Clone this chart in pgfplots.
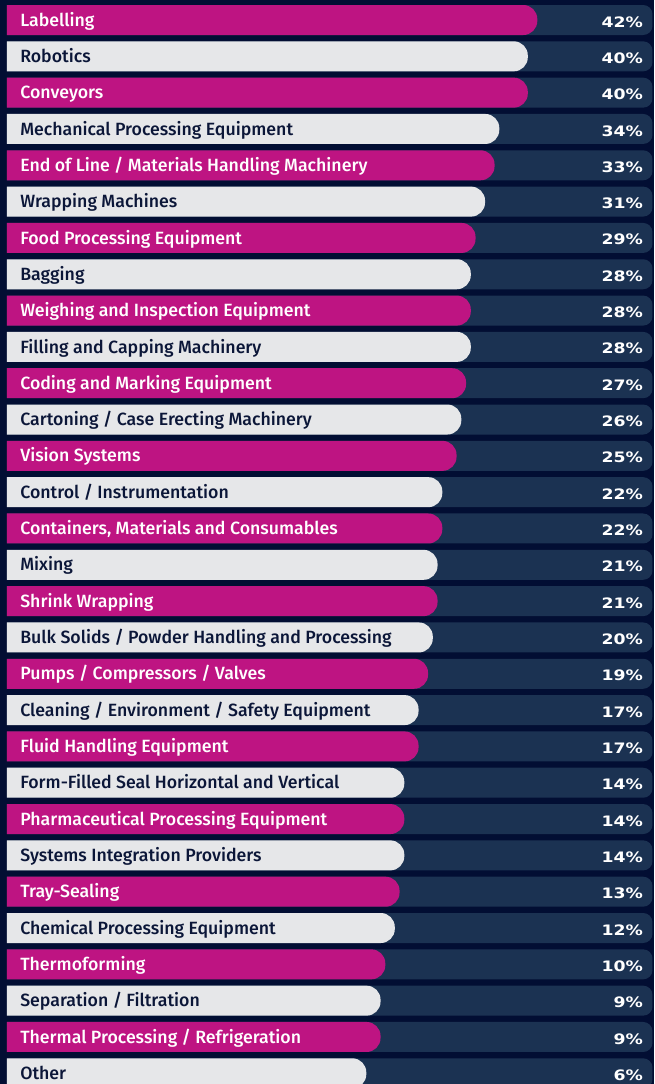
\documentclass[border=0pt]{standalone}
\usepackage{fontspec}
\setmainfont{Fira Sans Medium}
\newfontfamily\pctfont{DejaVu Sans}[FakeStretch=1.2]
\usepackage{pgfplots}
\pgfplotsset{compat=1.18}
\usepackage{pgfplotstable}
\definecolor{bgnavy}{HTML}{020E33}
\definecolor{track}{HTML}{1B3252}
\definecolor{mag}{HTML}{BE1482}
\definecolor{lgrey}{HTML}{E6E7E9}
\definecolor{dtext}{HTML}{0B1638}

\pgfplotstableread[col sep=semicolon]{
row;v;label
0;42;Labelling
2;40;Conveyors
4;33;End of Line / Materials Handling Machinery
6;29;Food Processing Equipment
8;28;Weighing and Inspection Equipment
10;27;Coding and Marking Equipment
12;25;Vision Systems
14;22;Containers, Materials and Consumables
16;21;Shrink Wrapping
18;19;Pumps / Compressors / Valves
20;17;Fluid Handling Equipment
22;14;Pharmaceutical Processing Equipment
24;13;Tray-Sealing
26;10;Thermoforming
28;9;Thermal Processing / Refrigeration
}\magtab

\pgfplotstableread[col sep=semicolon]{
row;v;label
1;40;Robotics
3;34;Mechanical Processing Equipment
5;31;Wrapping Machines
7;28;Bagging
9;28;Filling and Capping Machinery
11;26;Cartoning / Case Erecting Machinery
13;22;Control / Instrumentation
15;21;Mixing
17;20;Bulk Solids / Powder Handling and Processing
19;17;Cleaning / Environment / Safety Equipment
21;14;Form-Filled Seal Horizontal and Vertical
23;14;Systems Integration Providers
25;12;Chemical Processing Equipment
27;9;Separation / Filtration
29;6;Other
}\greytab

\begin{document}
\begin{tikzpicture}
\path[use as bounding box, fill=bgnavy] (-5.25pt,0) rectangle (485.25pt,813pt);
\begin{scope}
\clip (0,0) rectangle (485.25pt,813pt);
\begin{axis}[
  at={(-27.75pt,0)}, anchor=south west,
  scale only axis, width=513pt, height=813pt,
  xmin=-2.43, xmax=141.57, ymin=-0.551, ymax=29.295, y dir=reverse,
  hide axis,
]
% background tracks
\addplot[xbar, bar width=0.826, bar shift=0pt, fill=track, draw=none, rounded corners=7pt]
  table[x expr=141.25, y=row] {\magtab};
\addplot[xbar, bar width=0.826, bar shift=0pt, fill=track, draw=none, rounded corners=7pt]
  table[x expr=141.25, y=row] {\greytab};
% value bars
\addplot[xbar, bar width=0.826, bar shift=0pt, fill=mag, draw=none, rounded corners=10.5pt]
  table[x expr=\thisrow{v}+75, y=row] {\magtab};
\addplot[xbar, bar width=0.826, bar shift=0pt, fill=lgrey, draw=none, rounded corners=10.5pt]
  table[x expr=\thisrow{v}+75, y=row] {\greytab};
% category labels
\addplot[draw=none, nodes near coords, point meta=explicit symbolic,
  every node near coord/.append style={anchor=base west, yshift=-4.6pt, inner sep=0pt, text=white, font=\fontsize{13.3}{15}\selectfont}]
  table[x expr=8.1, y=row, meta=label] {\magtab};
\addplot[draw=none, nodes near coords, point meta=explicit symbolic,
  every node near coord/.append style={anchor=base west, yshift=-4.6pt, inner sep=0pt, text=dtext, font=\fontsize{13.3}{15}\selectfont}]
  table[x expr=8.1, y=row, meta=label] {\greytab};
% percentages
\addplot[draw=none, nodes near coords={\pgfplotspointmeta\%}, point meta=explicit symbolic,
  every node near coord/.append style={anchor=base east, yshift=-5.3pt, inner sep=0pt, text=white, font=\pctfont\bfseries\fontsize{10.8}{12}\selectfont}]
  table[x expr=139.3, y=row, meta=v] {\magtab};
\addplot[draw=none, nodes near coords={\pgfplotspointmeta\%}, point meta=explicit symbolic,
  every node near coord/.append style={anchor=base east, yshift=-5.3pt, inner sep=0pt, text=white, font=\pctfont\bfseries\fontsize{10.8}{12}\selectfont}]
  table[x expr=139.3, y=row, meta=v] {\greytab};
\end{axis}
\end{scope}
\end{tikzpicture}
\end{document}
